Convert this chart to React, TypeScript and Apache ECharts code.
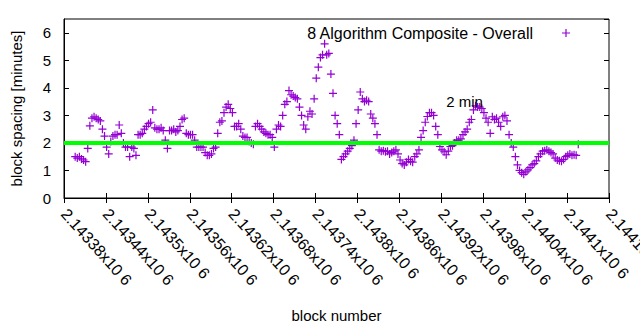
import React, { useEffect, useRef } from "react";
import * as echarts from "echarts";

const seriesName = "8 Algorithm Composite - Overall";
const blockStart = 2143396;
const blockStep = 3;
const spacingMinutes = [
  1.5, 1.45, 1.5, 1.42, 1.38, 1.32, 1.8, 2.62, 2.9, 2.95,
  2.9, 2.85, 2.8, 2.5, 2.25, 1.85, 1.6, 2.05, 2.25, 2.3,
  2.3, 2.65, 2.35, 2.0, 1.85, 1.85, 1.5, 1.85, 1.8, 1.55,
  2.3, 2.3, 2.35, 2.5, 2.6, 2.7, 2.75, 3.2, 2.55, 2.5,
  2.5, 2.55, 2.45, 2.1, 1.8, 2.45, 2.45, 2.5, 2.4, 2.45,
  2.6, 2.85, 2.9, 2.35, 2.3, 2.3, 2.3, 2.1, 1.85, 1.85,
  1.85, 1.85, 1.65, 1.55, 1.55, 1.6, 1.8, 1.85, 2.35, 2.75,
  2.8, 3.1, 3.3, 3.4, 3.25, 3.1, 2.6, 2.6, 2.7, 2.5,
  2.25, 2.2, 2.2, 2.05, 2.0, 1.95, 2.6, 2.7, 2.6, 2.5,
  2.4, 2.35, 2.3, 2.3, 2.2, 1.85, 2.5, 2.65, 2.6, 3.0,
  3.4, 3.5, 3.9, 3.75, 3.7, 3.65, 3.6, 3.3, 3.0, 2.65,
  2.5, 2.95, 3.15, 3.05, 3.6, 4.35, 4.75, 5.1, 5.2, 5.6,
  5.2, 5.25, 4.5, 3.8, 3.0, 2.7, 2.3, 1.4, 1.5, 1.6,
  1.7, 1.8, 1.9, 2.1, 2.7, 3.2, 3.85, 3.6, 3.5, 3.55,
  3.5, 3.05, 2.9, 2.7, 2.3, 1.75, 1.7, 1.72, 1.68, 1.7,
  1.6, 1.65, 1.7, 1.75, 1.6, 1.38, 1.25, 1.2, 1.3, 1.4,
  1.33, 1.3, 1.5, 1.6, 1.75, 2.2, 2.45, 2.75, 2.96, 3.1,
  3.1, 3.0, 2.6, 2.3, 1.87, 1.75, 1.68, 1.57, 1.7, 1.87,
  1.9, 2.0, 2.1, 2.1, 2.15, 2.3, 2.4, 2.5, 2.75, 2.85,
  3.2, 3.35, 3.3, 3.3, 3.25, 3.1, 2.9, 2.75, 2.35, 2.95,
  2.85, 2.9, 2.75, 2.6, 2.95, 3.0, 2.8, 2.3, 2.0, 1.85,
  1.5, 1.2, 1.0, 0.92, 0.86, 0.95, 1.02, 1.1, 1.2, 1.25,
  1.35, 1.5, 1.6, 1.7, 1.72, 1.75, 1.7, 1.65, 1.6, 1.45,
  1.38, 1.35, 1.33, 1.4, 1.5, 1.55, 1.6, 1.55, 1.57, 1.55, 1.95,
];

const xMin = 2143380;
const xMax = 2144160;
const xInterval = 60;
const yMin = 0;
const yMax = 6.5;
const yInterval = 1;

const targetMinutes = 2;
const targetLabel = "2 min";
const targetLabelBlock = 2143927;
const targetLabelMinutes = 3.5;

const FONT = "Liberation Sans";
const PLUS = "path://M3.4,0h1.2v3.4h3.4v1.2h-3.4v3.4h-1.2v-3.4h-3.4v-1.2h3.4z";

function fmtBlock(v: number): string {
  const s = parseFloat((v / 1e6).toFixed(6)).toString();
  return s + "x10 6";
}

export default function App() {
  const ref = useRef<HTMLDivElement>(null);
  useEffect(() => {
    if (!ref.current) return;
    const chart = echarts.init(ref.current, null, { renderer: "svg" });
    const data = spacingMinutes.map((v, i) => [blockStart + i * blockStep, v]);
    const tickBase = {
      show: true,
      inside: true,
      length: 5,
      lineStyle: { color: "#000", width: 1 },
    };
    chart.setOption({
      animation: false,
      backgroundColor: "#fff",
      textStyle: { fontFamily: FONT },
      grid: {
        left: 64,
        right: 31,
        top: 19,
        bottom: 132,
        show: true,
        borderColor: "#000",
        borderWidth: 1,
        backgroundColor: "transparent",
        containLabel: false,
        outerBoundsMode: "none",
      },
      legend: {
        show: true,
        right: 65,
        top: 20,
        align: "right",
        itemWidth: 8,
        itemHeight: 8,
        data: [{ name: seriesName, icon: PLUS }],
        textStyle: {
          fontFamily: FONT,
          fontSize: 16,
          color: "#000",
          padding: [0, 24, 0, 0],
        },
      },
      xAxis: [
        {
          type: "value",
          min: xMin,
          max: xMax,
          interval: xInterval,
          position: "bottom",
          name: "block number",
          nameLocation: "middle",
          nameGap: 110,
          nameTextStyle: { fontFamily: FONT, fontSize: 15, color: "#000" },
          axisLine: { show: true, lineStyle: { color: "#000" } },
          axisTick: tickBase,
          splitLine: { show: false },
          axisLabel: {
            rotate: -48,
            margin: 13,
            fontFamily: FONT,
            fontSize: 16,
            color: "#000",
            formatter: fmtBlock,
            showMaxLabel: true,
            hideOverlap: false,
          },
        },
        {
          type: "value",
          min: xMin,
          max: xMax,
          interval: xInterval,
          position: "top",
          axisLine: { show: false },
          axisTick: tickBase,
          axisLabel: { show: false },
          splitLine: { show: false },
        },
      ],
      yAxis: [
        {
          type: "value",
          min: yMin,
          max: yMax,
          interval: yInterval,
          position: "left",
          name: "block spacing [minutes]",
          nameLocation: "middle",
          nameGap: 40,
          nameTextStyle: { fontFamily: FONT, fontSize: 15, color: "#000" },
          axisLine: { show: true, lineStyle: { color: "#000" } },
          axisTick: tickBase,
          splitLine: { show: false },
          axisLabel: {
            margin: 13,
            fontFamily: FONT,
            fontSize: 15,
            color: "#000",
            showMaxLabel: false,
          },
        },
        {
          type: "value",
          min: yMin,
          max: yMax,
          interval: yInterval,
          position: "right",
          axisLine: { show: false },
          axisTick: tickBase,
          axisLabel: { show: false },
          splitLine: { show: false },
        },
      ],
      series: [
        {
          name: seriesName,
          type: "scatter",
          xAxisIndex: 0,
          yAxisIndex: 0,
          symbol: PLUS,
          symbolSize: 8,
          itemStyle: { color: "#9400d3", opacity: 1 },
          data,
          markLine: {
            silent: true,
            symbol: "none",
            label: { show: false },
            lineStyle: { color: "#00ff00", width: 4, type: "solid" },
            data: [{ yAxis: targetMinutes }],
            z: 10,
          },
          markPoint: {
            silent: true,
            symbol: "circle",
            symbolSize: 0,
            label: {
              show: true,
              position: "right",
              distance: 0,
              formatter: targetLabel,
              fontFamily: FONT,
              fontSize: 15,
              color: "#000",
            },
            data: [{ coord: [targetLabelBlock, targetLabelMinutes] }],
          },
        },
      ],
    });
    return () => chart.dispose();
  }, []);
  return (
    <div
      ref={ref}
      style={{ position: "fixed", left: 0, top: 0, width: 640, height: 330 }}
    />
  );
}
